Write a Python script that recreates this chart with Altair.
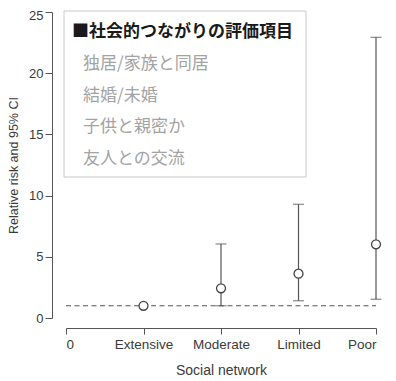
import altair as alt
import pandas as pd

categories = ["Extensive", "Moderate", "Limited", "Poor"]
positions = [1, 2, 3, 4]
risk = [1.0, 2.43, 3.62, 6.02]
ci_low = [None, 1.0, 1.41, 1.53]
ci_high = [None, 6.05, 9.29, 22.93]
tick_labels = ["0"] + categories
ref_value = 1.0

legend_title = "■社会的つながりの評価項目"
legend_items = ["独居/家族と同居", "結婚/未婚", "子供と親密か", "友人との交流"]

df = pd.DataFrame({"pos": positions, "cat": categories, "rr": risk, "lo": ci_low, "hi": ci_high})
df_ci = df.dropna()
df_ref = pd.DataFrame({"x0": [0], "x1": [4], "y": [ref_value]})

label_expr = "[" + ",".join(f"'{t}'" for t in tick_labels) + "][datum.value]"

FONT = "Liberation Sans"
AX = "#555555"
TXT = "#3a3a3a"

xscale = alt.Scale(domain=[0, 4], nice=False, zero=False)
yscale = alt.Scale(domain=[0, 25], nice=False)

xaxis = alt.Axis(values=[0, 1, 2, 3, 4], labelExpr=label_expr, grid=False, offset=10,
                 domainColor=AX, tickColor=AX, tickSize=6, labelPadding=3,
                 labelFont=FONT, labelFontSize=13.5, labelColor=TXT,
                 title="Social network", titleFont=FONT, titleFontSize=14,
                 titleFontWeight="normal", titleColor=TXT, titlePadding=13)
yaxis = alt.Axis(values=[0, 5, 10, 15, 20, 25], grid=False, offset=14,
                 domainColor=AX, tickColor=AX, tickSize=7, labelPadding=2,
                 labelFont=FONT, labelFontSize=13, labelColor=TXT,
                 labelOffset={"condition": {"test": "datum.value == 25", "value": 3}, "value": 0},
                 title="Relative risk and 95% CI", titleFont=FONT, titleFontSize=12.5,
                 titleFontWeight="normal", titleColor=TXT, titlePadding=8)

ref = alt.Chart(df_ref).mark_rule(color=AX, strokeDash=[5, 3.5], strokeWidth=1.2).encode(
    x=alt.X("x0:Q", scale=xscale, axis=xaxis),
    x2="x1:Q",
    y=alt.Y("y:Q", scale=yscale, axis=yaxis),
)

bars = alt.Chart(df_ci).mark_rule(color=AX, strokeWidth=1.2).encode(
    x=alt.X("pos:Q", scale=xscale), y=alt.Y("lo:Q", scale=yscale), y2="hi:Q")
cap_lo = alt.Chart(df_ci).mark_tick(orient="horizontal", size=11, thickness=1.2, color=AX).encode(
    x=alt.X("pos:Q", scale=xscale), y=alt.Y("lo:Q", scale=yscale))
cap_hi = alt.Chart(df_ci).mark_tick(orient="horizontal", size=11, thickness=1.2, color=AX).encode(
    x=alt.X("pos:Q", scale=xscale), y=alt.Y("hi:Q", scale=yscale))
points = alt.Chart(df).mark_point(shape="circle", filled=True, fill="white", stroke="#444444",
                                  strokeWidth=1.3, size=80, opacity=1).encode(
    x=alt.X("pos:Q", scale=xscale), y=alt.Y("rr:Q", scale=yscale))

box = alt.Chart(pd.DataFrame({"a": [0]})).mark_rect(fill="white", stroke="#c8c8c8", strokeWidth=1).encode(
    x=alt.value(-2), x2=alt.value(240), y=alt.value(-1), y2=alt.value(165))

head = alt.Chart(pd.DataFrame({"t": [legend_title]})).mark_text(
    align="left", baseline="middle", font="Noto Sans CJK JP", fontSize=17, fontWeight="bold",
    color="#1a1a1a").encode(text="t:N", x=alt.value(6), y=alt.value(19.5))

item_layers = []
item_y = [52, 83.5, 115, 146.5]
for txt, yy in zip(legend_items, item_y):
    item_layers.append(alt.Chart(pd.DataFrame({"t": [txt]})).mark_text(
        align="left", baseline="middle", font="Noto Sans CJK JP", fontSize=17,
        color="#a3a3a3").encode(text="t:N", x=alt.value(17), y=alt.value(yy)))

chart = alt.layer(ref, bars, cap_lo, cap_hi, points, box, head, *item_layers).properties(
    width=310, height=306,
    background="white",
    autosize=alt.AutoSizeParams(type="none"),
    padding={"left": 58, "top": 4, "right": 10, "bottom": 59},
).configure_view(strokeWidth=0, stroke="transparent")

chart.save("out.html", embed_options={"renderer": "svg", "actions": False})
